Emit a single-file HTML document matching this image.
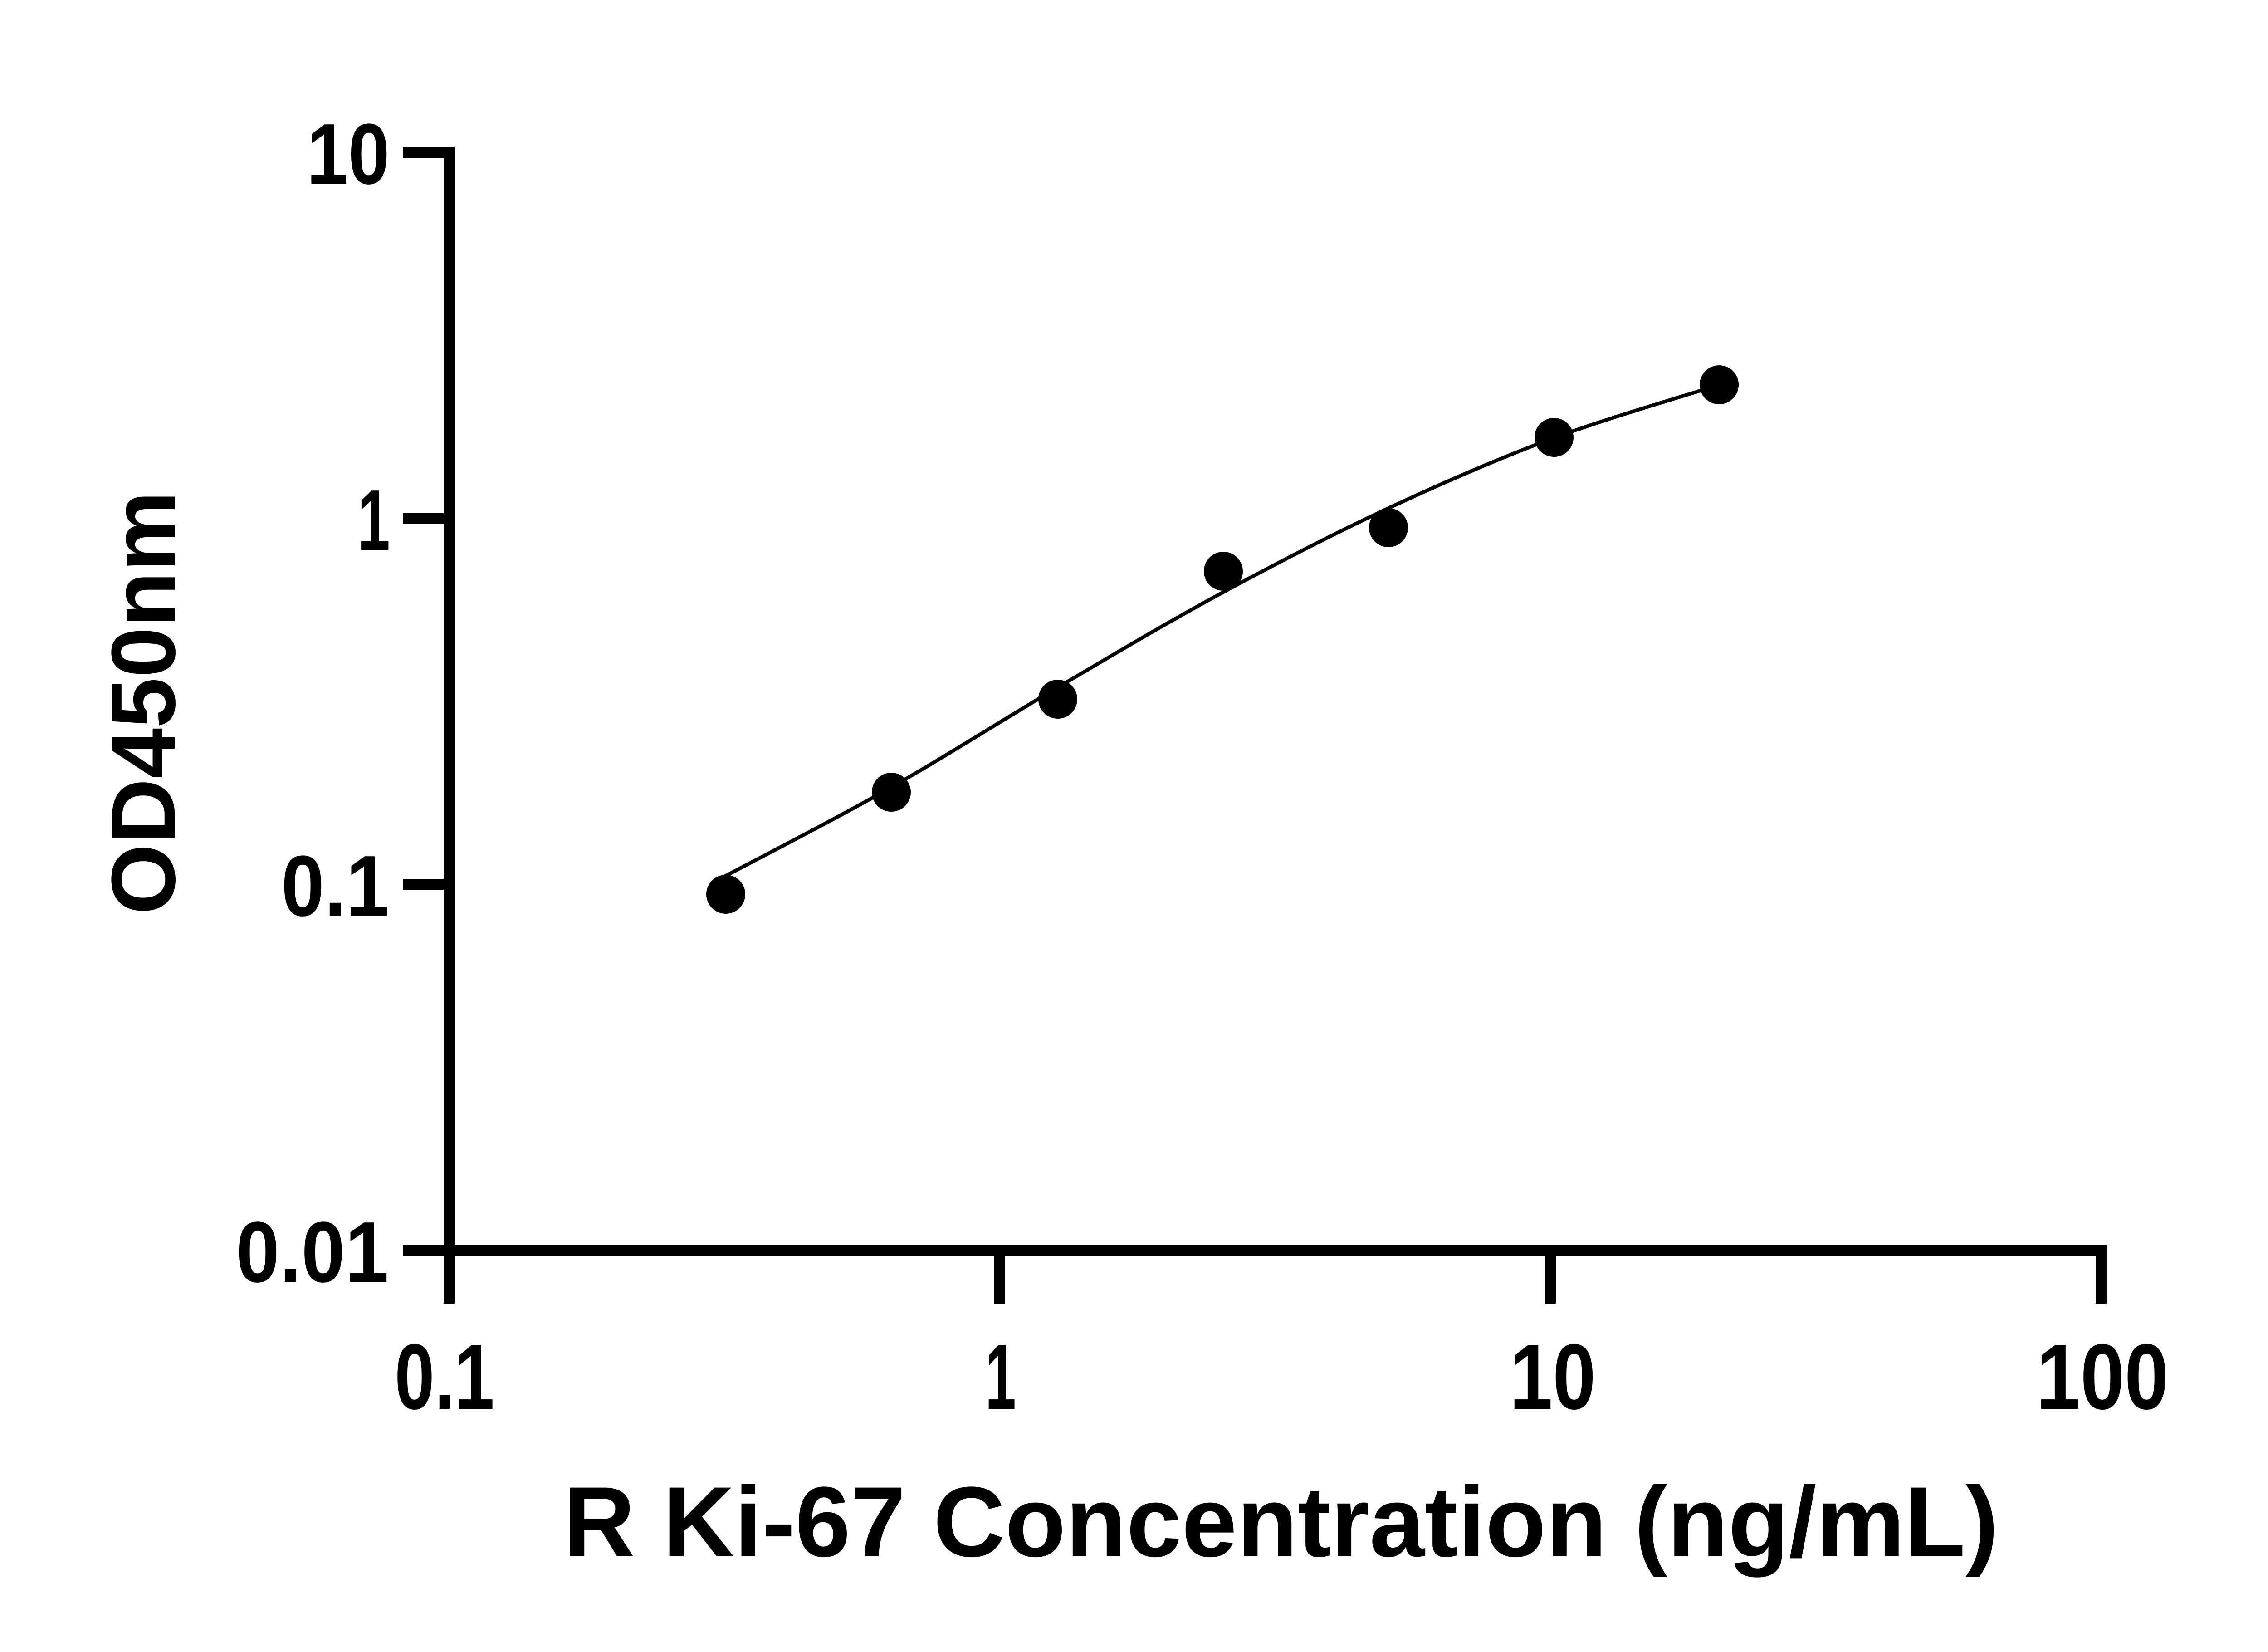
<!DOCTYPE html>
<html><head><style>html,body{margin:0;padding:0;background:#fff}</style></head>
<body>
<svg width="5142" height="3636" viewBox="0 0 5142 3636" xmlns="http://www.w3.org/2000/svg" font-family="Liberation Sans, Arial, sans-serif" font-weight="bold">
<rect width="5142" height="3636" fill="#fff"/>
<g stroke="#000" stroke-width="24" fill="none" stroke-linecap="butt">
<line x1="990" y1="324" x2="990" y2="2768"/>
<line x1="978" y1="2756" x2="4632" y2="2756"/>
<line x1="888" y1="336" x2="990" y2="336"/>
<line x1="888" y1="1143" x2="990" y2="1143"/>
<line x1="888" y1="1949" x2="990" y2="1949"/>
<line x1="888" y1="2756" x2="990" y2="2756"/>
<line x1="990" y1="2756" x2="990" y2="2873"/>
<line x1="2204" y1="2756" x2="2204" y2="2873"/>
<line x1="3418" y1="2756" x2="3418" y2="2873"/>
<line x1="4632" y1="2744" x2="4632" y2="2873"/>
</g>
<g font-size="190">
<text x="676" y="405" textLength="183" lengthAdjust="spacingAndGlyphs">10</text>
<text x="788" y="1212" textLength="72" lengthAdjust="spacingAndGlyphs">1</text>
<text x="620" y="2018" textLength="238" lengthAdjust="spacingAndGlyphs">0.1</text>
<text x="520" y="2825" textLength="337" lengthAdjust="spacingAndGlyphs">0.01</text>
</g>
<g font-size="205">
<text x="870" y="3105" textLength="220" lengthAdjust="spacingAndGlyphs">0.1</text>
<text x="2172" y="3105" textLength="68" lengthAdjust="spacingAndGlyphs">1</text>
<text x="3328" y="3105" textLength="190" lengthAdjust="spacingAndGlyphs">10</text>
<text x="4489" y="3105" textLength="292" lengthAdjust="spacingAndGlyphs">100</text>
</g>
<text x="1242" y="3430" font-size="220" textLength="3164" lengthAdjust="spacingAndGlyphs">R Ki-67 Concentration (ng/mL)</text>
<text transform="translate(385,1549) rotate(-90)" font-size="200" text-anchor="middle">OD450nm</text>
<path d="M1591,1935 C1653,1902 1842,1805 1965,1735 C2088,1665 2210,1587 2332,1515 C2454,1443 2575,1371 2697,1305 C2819,1239 2939,1177 3061,1120 C3183,1063 3305,1010 3426,965 C3548,920 3729,868 3790,848" stroke="#000" stroke-width="8" fill="none"/>
<g fill="#000">
<circle cx="1600" cy="1971" r="43"/>
<circle cx="1965" cy="1746" r="43"/>
<circle cx="2332" cy="1541" r="43"/>
<circle cx="2697" cy="1259" r="43"/>
<circle cx="3061" cy="1163" r="43"/>
<circle cx="3426" cy="964" r="43"/>
<circle cx="3790" cy="848" r="43"/>
</g>
</svg>
</body></html>
